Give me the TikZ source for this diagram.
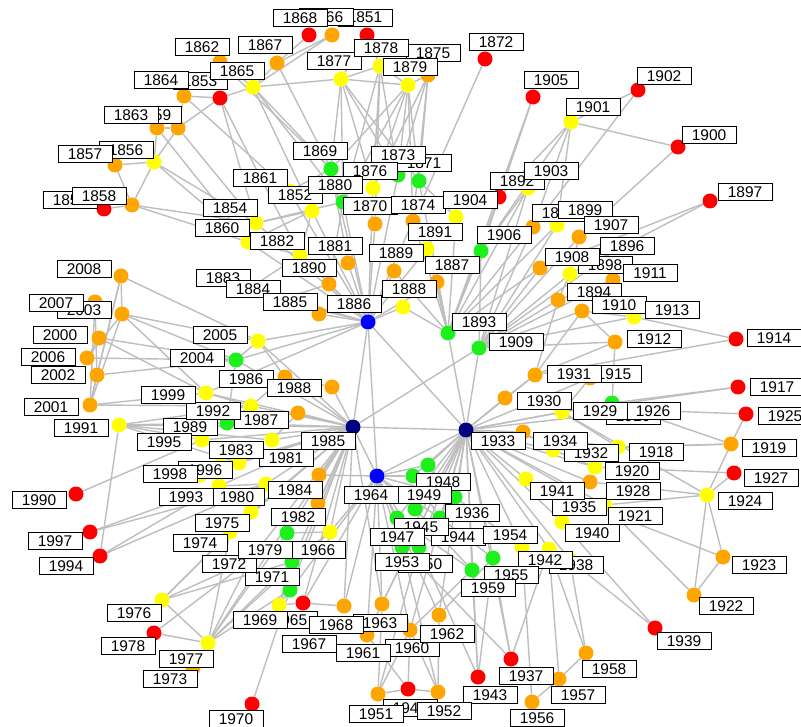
\documentclass[tikz,border=0pt]{standalone}
\usepackage{fontspec}
\newfontfamily\labfont{Liberation Sans}
\definecolor{cR}{RGB}{255,0,0}
\definecolor{cO}{RGB}{255,165,0}
\definecolor{cY}{RGB}{255,255,0}
\definecolor{cG}{RGB}{30,240,30}
\definecolor{cB}{RGB}{0,0,255}
\definecolor{cN}{RGB}{0,0,128}
\definecolor{edgegray}{RGB}{190,190,190}
\pgfdeclarelayer{bg}
\pgfsetlayers{bg,main}
\tikzset{
  dot/.style={circle, inner sep=0pt, minimum size=15pt, draw=none},
  lab/.style={draw=black, fill=white, line width=0.9pt, minimum width=54pt, minimum height=17pt, inner sep=0pt, font=\labfont\fontsize{15.5}{18}\selectfont},
  edge/.style={draw=edgegray, line width=1.4pt}
}
\begin{document}
\begin{tikzpicture}[x=1pt,y=-1pt]
\useasboundingbox (0,0) rectangle (801,727);
% nodes
\foreach \n/\x/\y/\c in {
1851/367/35/cR, 1852/312/211/cY, 1853/220/98/cR, 1854/256/223/cY, 1855/104/209/cR,
1856/154/162/cY, 1857/115/165/cO, 1858/132/205/cO, 1859/178/128/cO, 1860/248/242/cY,
1861/289/191/cY, 1862/220/62/cO, 1863/157/128/cO, 1864/184/96/cO, 1865/253/87/cY,
1866/332/35/cO, 1867/277/63/cO, 1868/309/35/cR, 1869/331/169/cG, 1870/375/224/cO,
1871/419/181/cG, 1872/485/59/cR, 1873/398/175/cG, 1874/413/221/cO, 1875/428/75/cO,
1876/373/188/cY, 1877/341/79/cY, 1878/380/66/cY, 1879/408/85/cY, 1880/343/202/cG,
1881/348/263/cO, 1882/300/255/cY, 1883/250/288/cO, 1884/280/300/cO, 1885/319/314/cO,
1886/368/322/cB, 1887/437/282/cO, 1888/403/307/cY, 1889/394/271/cO, 1890/329/284/cO,
1891/427/249/cY, 1892/499/197/cR, 1893/448/333/cG, 1894/558/300/cO, 1895/533/227/cO,
1896/620/247/cO, 1897/710/201/cR, 1898/570/274/cY, 1899/557/225/cY, 1900/678/147/cR,
1901/571/122/cY, 1902/638/90/cR, 1903/528/188/cY, 1904/456/217/cY, 1905/533/97/cR,
1906/481/251/cG, 1907/579/237/cO, 1908/540/268/cO, 1909/479/348/cG, 1910/582/311/cO,
1911/613/280/cO, 1912/615/342/cO, 1913/634/317/cY, 1914/736/339/cR, 1915/590/378/cO,
1916/612/403/cG, 1917/738/387/cR, 1918/618/447/cY, 1919/731/444/cO, 1920/595/467/cY,
1921/615/515/cY, 1922/694/595/cO, 1923/723/557/cO, 1924/707/495/cY, 1925/746/414/cR,
1926/640/410/cO, 1927/734/473/cR, 1928/590/482/cO, 1929/562/412/cY, 1930/505/398/cO,
1931/535/375/cO, 1932/553/450/cY, 1933/466/430/cN, 1934/523/432/cO, 1935/605/505/cY,
1936/455/497/cG, 1937/511/659/cR, 1938/570/560/cY, 1939/655/628/cR, 1940/562/522/cY,
1941/526/479/cY, 1942/549/549/cY, 1943/478/677/cR, 1944/440/518/cG, 1945/397/518/cG,
1946/408/689/cR, 1947/415/509/cG, 1948/428/465/cG, 1949/413/476/cG, 1950/419/547/cG,
1951/378/694/cO, 1952/438/692/cO, 1953/402/547/cG, 1954/522/547/cY, 1955/493/558/cG,
1956/532/702/cO, 1957/559/679/cO, 1958/586/653/cO, 1959/472/570/cG, 1960/410/630/cO,
1961/367/635/cO, 1962/439/615/cO, 1963/382/604/cO, 1964/377/476/cB, 1965/303/603/cR,
1966/330/532/cY, 1967/319/475/cO, 1968/344/606/cO, 1969/279/605/cY, 1970/252/704/cR,
1971/290/590/cG, 1972/250/560/cY, 1973/193/668/cO, 1974/230/532/cY, 1975/251/512/cY,
1976/162/600/cY, 1977/208/643/cY, 1978/154/633/cR, 1979/292/562/cG, 1980/266/484/cY,
1981/272/440/cY, 1982/287/533/cG, 1983/239/463/cY, 1984/318/503/cO, 1985/353/427/cN,
1986/285/377/cO, 1987/298/413/cO, 1988/332/387/cO, 1989/227/423/cG, 1990/76/494/cR,
1991/119/425/cY, 1992/251/406/cY, 1993/219/486/cY, 1994/100/556/cR, 1995/202/440/cY,
1996/220/466/cY, 1997/90/532/cR, 1998/200/475/cY, 1999/206/393/cY, 2000/99/338/cO,
2001/90/405/cO, 2002/97/375/cO, 2003/122/314/cO, 2004/236/360/cG, 2005/258/341/cY,
2006/87/358/cO, 2007/95/302/cO, 2008/121/276/cO}
  \node[dot, fill=\c] (n\n) at (\x,\y) {};
% edges
\begin{pgfonlayer}{bg}
\fill[white] (0,0) rectangle (801,727);
\foreach \a/\b in {
1864/1853, 1853/1865, 1862/1865, 1862/1853, 1867/1865, 1864/1859, 1863/1859, 1859/1853, 1859/1856, 1863/1856,
1857/1856, 1857/1858, 1855/1858, 1856/1858, 1858/1854, 1858/1860, 1856/1854, 1856/1860, 1859/1854, 1863/1860,
1853/1854, 1853/1882, 1864/1861, 1865/1852, 1865/1869, 1865/1880, 1865/1877, 1862/1869, 1867/1869, 1866/1867,
1868/1867, 1866/1865, 1851/1877, 1851/1878,
1877/1869, 1877/1880, 1877/1876, 1877/1873, 1877/1871, 1877/1879, 1878/1879, 1878/1877, 1878/1876, 1878/1873,
1878/1870, 1878/1880, 1875/1879, 1875/1876, 1875/1873, 1875/1871, 1875/1874, 1879/1880, 1879/1869, 1879/1871,
1879/1874, 1879/1876, 1879/1873, 1872/1874,
1869/1886, 1880/1886, 1876/1886, 1873/1886, 1870/1886, 1874/1886, 1852/1886, 1861/1886, 1854/1886, 1860/1886,
1882/1886, 1881/1886, 1890/1886, 1889/1886, 1887/1886, 1888/1886, 1885/1886, 1884/1886, 1883/1886, 1891/1886,
1861/1869, 1852/1869, 1854/1880, 1860/1852, 1854/1852, 1882/1852, 1881/1869, 1890/1880, 1860/1882, 1883/1882,
1884/1890, 1871/1893, 1874/1893, 1891/1893, 1889/1893, 1887/1893, 1888/1893, 1904/1893, 1892/1893, 1906/1893,
1904/1871,
1905/1893, 1905/1906, 1901/1906, 1901/1902, 1902/1895, 1901/1900, 1900/1907, 1901/1899, 1901/1895, 1901/1892,
1897/1898, 1897/1908, 1903/1906, 1903/1909, 1892/1906, 1895/1909, 1899/1909, 1907/1909, 1896/1909, 1908/1909,
1898/1909, 1911/1909, 1894/1909, 1910/1909, 1913/1909, 1912/1909, 1914/1913, 1914/1931, 1913/1910, 1912/1910,
1912/1931, 1894/1931, 1910/1931, 1911/1894, 1898/1894, 1907/1898, 1908/1893, 1895/1893, 1899/1893, 1906/1909,
1903/1893,
1909/1933, 1893/1933, 1886/1933, 1931/1933, 1930/1933, 1929/1933, 1934/1933, 1932/1933, 1916/1933, 1926/1933, 1918/1933,
1920/1933, 1928/1933, 1941/1933, 1935/1933, 1940/1933, 1921/1933, 1942/1933, 1938/1933, 1954/1933, 1915/1933,
1917/1929, 1917/1916, 1925/1926, 1925/1919, 1919/1916, 1919/1918, 1919/1924, 1919/1932, 1927/1924, 1927/1920,
1924/1923, 1924/1922, 1923/1922, 1923/1921, 1922/1935, 1924/1935, 1924/1928, 1924/1929, 1939/1938, 1939/1940,
1958/1942, 1958/1938, 1957/1958, 1957/1942, 1956/1957, 1956/1954, 1937/1942, 1937/1955, 1943/1959, 1943/1955,
1930/1931, 1929/1915, 1916/1912, 1932/1934, 1920/1932, 1918/1929,
1948/1933, 1949/1933, 1936/1933, 1945/1933, 1947/1933, 1944/1933, 1953/1933, 1950/1933, 1955/1933, 1959/1933,
1960/1933, 1962/1933, 1963/1933, 1937/1933, 1943/1933, 1961/1933, 1964/1985, 1964/1886, 1964/1948, 1964/1949,
1964/1945, 1964/1947, 1964/1953, 1964/1950, 1964/1936, 1964/1944, 1964/1963, 1964/1968, 1964/1961, 1964/1960,
1964/1962, 1964/1966, 1964/1969, 1964/1965, 1964/1967, 1964/1933, 1951/1946, 1946/1952, 1951/1960, 1952/1960,
1946/1960, 1951/1963, 1952/1962, 1946/1961, 1952/1953, 1951/1950, 1936/1954, 1944/1955, 1945/1959, 1947/1959,
1948/1936, 1949/1944, 1953/1937, 1950/1943, 1959/1960, 1955/1962,
1985/1933, 1985/1909, 1985/1886, 1985/1966, 1985/1982, 1985/1979, 1985/1971, 1985/1972, 1985/1984,
1985/1980, 1985/1993, 1985/1981, 1985/1983, 1985/1996, 1985/1998, 1985/1995, 1985/1989, 1985/1992, 1985/1987,
1985/1986, 1985/1988, 1985/1999, 1985/2004, 1985/2005, 1985/1991, 1985/1975, 1985/1974, 1985/1965, 1985/1969,
1985/1967, 1985/1968, 1985/1977, 1985/1963,
1977/1976, 1977/1978, 1977/1973, 1977/1972, 1977/1971, 1977/1979, 1977/1974, 1977/1966, 1977/1982, 1976/1972,
1976/1974, 1976/1975, 1976/1979, 1978/1972, 1970/1971, 1990/1995, 1997/1993, 1997/1980, 1994/1993, 1994/1980,
1965/1969, 1965/1968, 1969/1979, 1982/1966, 1979/1966, 1975/1980, 1993/1980, 1983/1995, 1989/1992, 1999/1992,
1986/1988, 1987/1981,
2008/2003, 2008/2001, 2008/2002, 2008/2005, 2003/2006, 2003/2001, 2003/2004, 2003/1999, 2003/2005, 2000/2004,
2000/2006, 2000/1999, 2002/2004, 2002/2001, 2006/2004, 2001/1999, 2001/1992, 2007/2002, 2007/2001, 1991/1989,
1991/1995, 1991/1992, 1991/1983, 1991/1981, 1991/1994, 2005/2004, 2005/1886, 2004/1886, 1999/1886, 2005/1986,
2004/1989, 1992/1986}
  \draw[edge] (n\a) -- (n\b);
\end{pgfonlayer}
% labels
\foreach \n/\x/\y in {
1851/365/17.5, 1852/295/195, 1853/200/81, 1854/230/208, 1855/70/200,
1856/126/150, 1857/85/154, 1858/99/196, 1859/154/115, 1860/222/228,
1861/260/178, 1862/202/47, 1863/131/115, 1864/161/80, 1865/237/71,
1866/326/17, 1867/265/45, 1868/300/18, 1869/320/151, 1870/370/206,
1871/424/163, 1872/496/42, 1873/398/155, 1874/418/205, 1875/433/53,
1876/370/171, 1877/334/61, 1878/381/48, 1879/410/67, 1880/335/185,
1881/335/246, 1882/277/241, 1883/223/278, 1884/253/289, 1885/290/302,
1886/354/304, 1887/452/265, 1888/409/289, 1889/396/253, 1890/309/268,
1891/435/232, 1892/517/181, 1893/479/322, 1894/594/292, 1895/559/213,
1896/627/246, 1897/745/192, 1898/605/265, 1899/585/210, 1900/709/135,
1901/593/107, 1902/664/76, 1903/551/171, 1904/470/200, 1905/551/80,
1906/504/235, 1907/611/225, 1908/572/257, 1909/516/342, 1910/619/305,
1911/650/273, 1912/654/339, 1913/672/310, 1914/774/338, 1915/614/374,
1916/633/416, 1917/777/387, 1918/656/452, 1919/769/448, 1920/632/471,
1921/635/516, 1922/726/606, 1923/759/565, 1924/745/501, 1925/785/416,
1926/653/411, 1927/771/478, 1928/633/491, 1929/600/411, 1930/544/401,
1931/574/374, 1932/591/453, 1933/498/441, 1934/560/441, 1935/579/507,
1936/472/513, 1937/526/676, 1938/576/565, 1939/684/641, 1940/592/533,
1941/557/491, 1942/545/560, 1943/490/695, 1944/458/537, 1945/421/527,
1946/410/708, 1947/397/537, 1948/443/482, 1949/424/495, 1950/425/564,
1951/376/714, 1952/444/711, 1953/402/562, 1954/510/535, 1955/511/575,
1956/537/718, 1957/578/695, 1958/609/669, 1959/488/588, 1960/412/648,
1961/363/653, 1962/447/634, 1963/380/623, 1964/371/495, 1965/290/620,
1966/318/550, 1967/309/644, 1968/336/625, 1969/260/620, 1970/236/719,
1971/272/577, 1972/229/564, 1973/170/679, 1974/200/543, 1975/222/523,
1976/134/613, 1977/186/659, 1978/128/646, 1979/265/550, 1980/237/497,
1981/286/458, 1982/298/517, 1983/236/450, 1984/295/490, 1985/328/441,
1986/246/379, 1987/261/420, 1988/294/388, 1989/190/427, 1990/39/500,
1991/81/428, 1992/213/411, 1993/186/497, 1994/66/566, 1995/164/442,
1996/205/470, 1997/55/541, 1998/170/474, 1999/168/395, 2000/60/335,
2001/51/407, 2002/58/375, 2003/84/310, 2004/197/358, 2005/220/335,
2006/48/357, 2007/56/303, 2008/84/269}
  \node[lab] (l\n) at (\x,\y) {\n};
\end{tikzpicture}
\end{document}
